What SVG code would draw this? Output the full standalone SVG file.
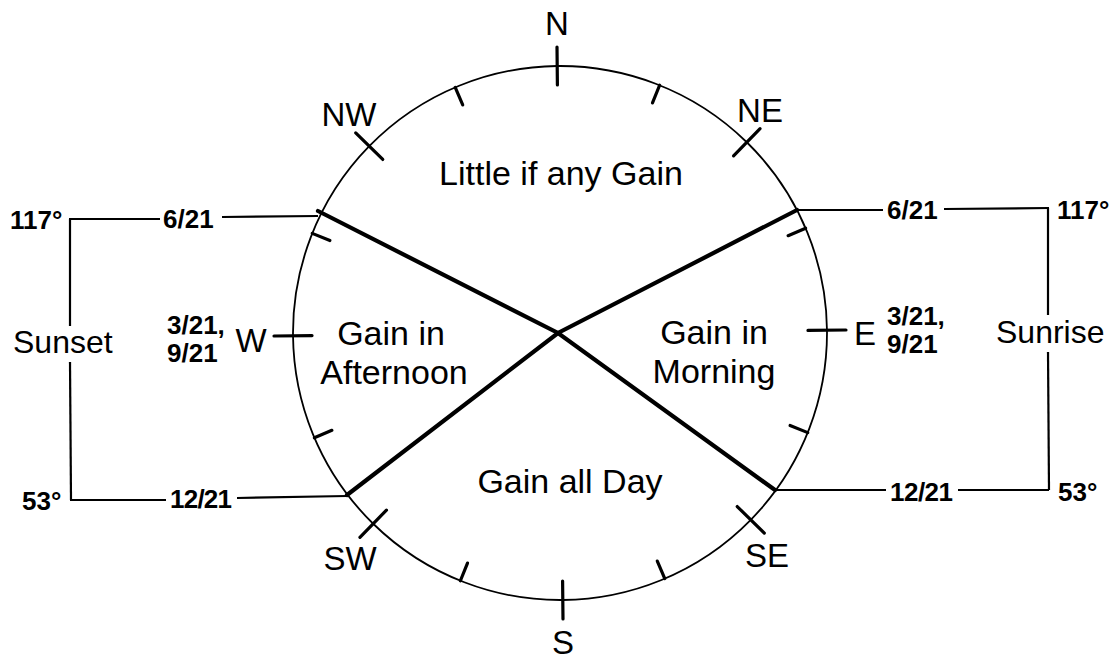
<svg xmlns="http://www.w3.org/2000/svg" width="1117" height="660" viewBox="0 0 1117 660">
<style>
.t{font-family:"Liberation Sans",Arial,sans-serif;fill:#000}
.b{font-weight:bold;font-size:26px}
.lbl{font-size:32px}
.dir{font-size:33px}
.in{font-size:34px}
.thin{stroke:#000;stroke-width:1.8;fill:none}
.br{stroke:#000;stroke-width:2.2;fill:none}
.tk{stroke:#000;stroke-width:3.2;stroke-linecap:round}
.thick{stroke:#000;stroke-width:4.2;stroke-linecap:round;fill:none}
</style>
<rect width="1117" height="660" fill="#fff"/>
<g id="compass" transform="rotate(-0.6 560 333)">
<circle class="thin" cx="560" cy="333" r="267"/>
<g id="major-ticks">
<line class="tk" x1="560" y1="85" x2="560" y2="47"/>
<line class="tk" x1="735.4" y1="157.6" x2="762.2" y2="130.8"/>
<line class="tk" x1="808" y1="333" x2="846" y2="333"/>
<line class="tk" x1="735.4" y1="508.4" x2="762.2" y2="535.2"/>
<line class="tk" x1="560" y1="581" x2="560" y2="619"/>
<line class="tk" x1="384.6" y1="508.4" x2="357.8" y2="535.2"/>
<line class="tk" x1="312" y1="333" x2="274" y2="333"/>
<line class="tk" x1="384.6" y1="157.6" x2="357.8" y2="130.8"/>
</g>
<g id="minor-ticks">
<line class="tk" x1="654.9" y1="103.9" x2="662.2" y2="86.3"/>
<line class="tk" x1="789.1" y1="238.1" x2="806.7" y2="230.8"/>
<line class="tk" x1="789.1" y1="427.9" x2="806.7" y2="435.2"/>
<line class="tk" x1="654.9" y1="562.1" x2="662.2" y2="579.7"/>
<line class="tk" x1="465.1" y1="562.1" x2="457.8" y2="579.7"/>
<line class="tk" x1="330.9" y1="427.9" x2="313.3" y2="435.2"/>
<line class="tk" x1="330.9" y1="238.1" x2="313.3" y2="230.8"/>
<line class="tk" x1="465.1" y1="103.9" x2="457.8" y2="86.3"/>
</g>
</g>
<g id="connectors">
<polyline class="thick" points="318,211 558,333 775,490"/>
<polyline class="thick" points="797,210 558,333 347,495"/>
<line class="br" x1="69" y1="219" x2="160" y2="219"/>
<line class="br" x1="222" y1="217" x2="318" y2="216"/>
<line class="br" x1="70" y1="219" x2="70" y2="326"/>
<line class="br" x1="70" y1="362" x2="71" y2="500"/>
<line class="br" x1="70" y1="500" x2="166" y2="500"/>
<line class="br" x1="237" y1="498" x2="347" y2="496"/>
<line class="br" x1="797" y1="210" x2="883" y2="210"/>
<line class="br" x1="944" y1="209" x2="1049" y2="208"/>
<line class="br" x1="1048" y1="208" x2="1048" y2="315"/>
<line class="br" x1="1048" y1="352" x2="1049" y2="490"/>
<line class="br" x1="775" y1="490" x2="886" y2="490"/>
<line class="br" x1="958" y1="490" x2="1049" y2="490"/>
</g>
<g id="directions" class="t dir" text-anchor="middle">
<text x="557" y="35">N</text>
<text x="349" y="126">NW</text>
<text x="760" y="122">NE</text>
<text x="251" y="352">W</text>
<text x="865" y="345">E</text>
<text x="350" y="570">SW</text>
<text x="767" y="567">SE</text>
<text x="563" y="654">S</text>
</g>
<g id="regions" class="t in" text-anchor="middle">
<text x="561" y="185">Little if any Gain</text>
<text x="391" y="345">Gain in</text>
<text x="394" y="384">Afternoon</text>
<text x="714" y="344">Gain in</text>
<text x="714" y="383">Morning</text>
<text x="570" y="493">Gain all Day</text>
</g>
<g id="sunset" class="t">
<text class="b" x="10" y="229">117°</text>
<text class="b" x="163" y="228">6/21</text>
<text class="lbl" x="13" y="353">Sunset</text>
<text class="b" x="167" y="334">3/21,</text>
<text class="b" x="167" y="362">9/21</text>
<text class="b" x="22" y="510">53°</text>
<text class="b" x="170" y="508" textLength="62">12/21</text>
</g>
<g id="sunrise" class="t">
<text class="b" x="1057" y="219">117°</text>
<text class="b" x="887" y="219">6/21</text>
<text class="lbl" x="996" y="343">Sunrise</text>
<text class="b" x="887" y="325">3/21,</text>
<text class="b" x="887" y="353">9/21</text>
<text class="b" x="1058" y="501">53°</text>
<text class="b" x="890" y="501" textLength="63">12/21</text>
</g>
</svg>
